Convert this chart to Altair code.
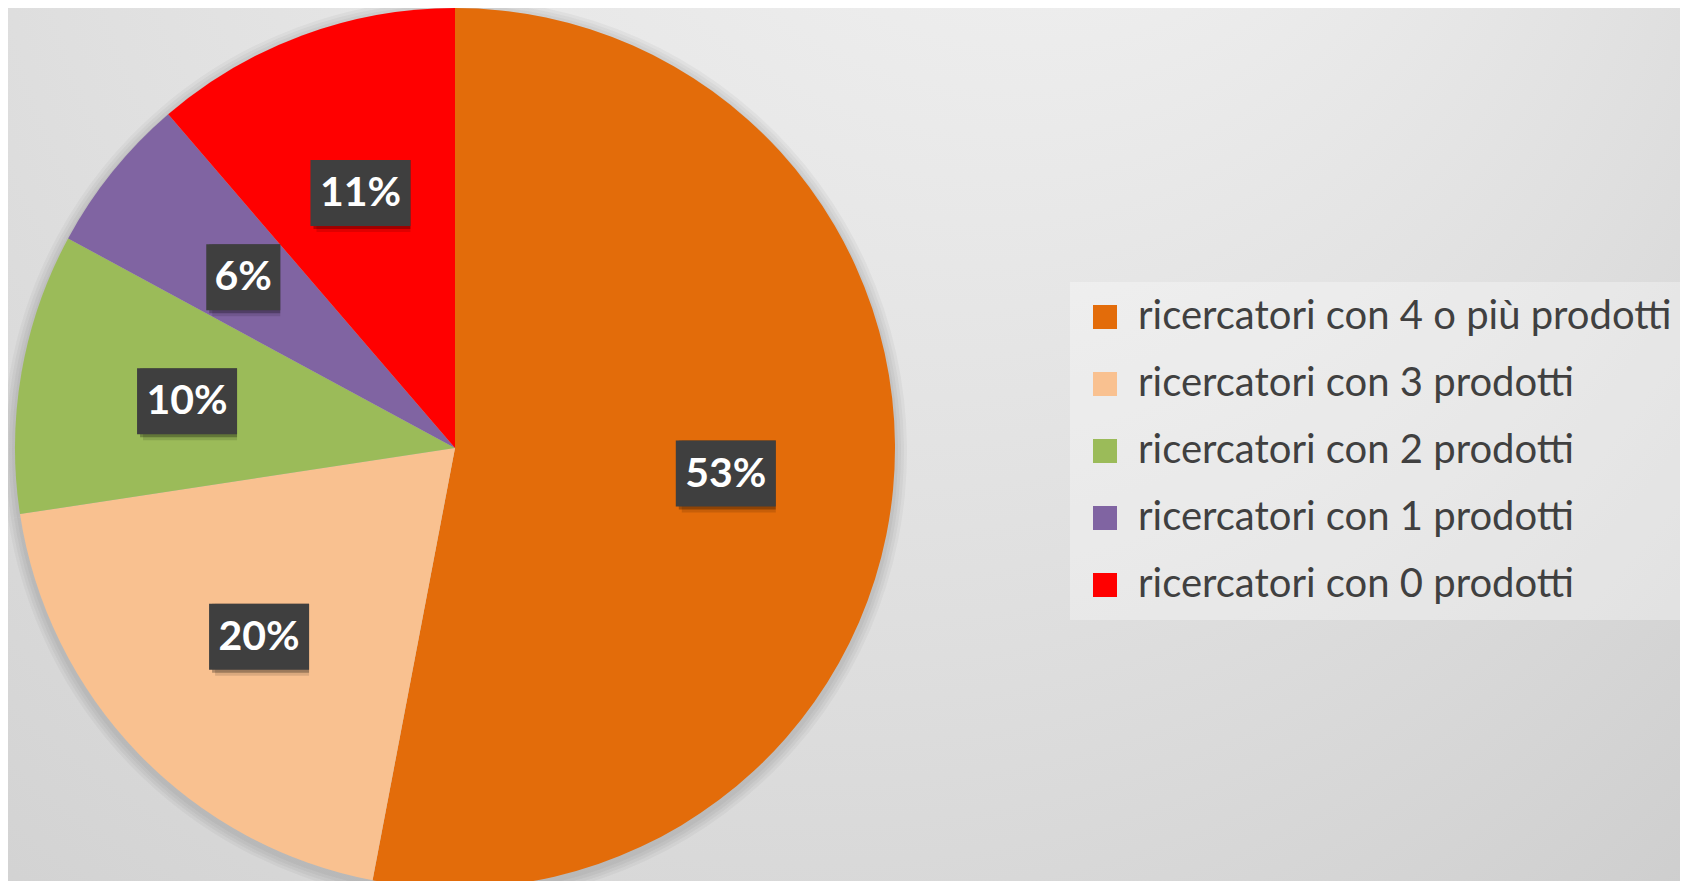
import altair as alt
import pandas as pd

# ---- data ----
categories = [
    "ricercatori con 4 o più prodotti",
    "ricercatori con 3 prodotti",
    "ricercatori con 2 prodotti",
    "ricercatori con 1 prodotti",
    "ricercatori con 0 prodotti",
]
shares = [53.0, 19.6, 10.3, 5.8, 11.3]
colors = ["#E36C0A", "#F9C190", "#9BBB59", "#8064A2", "#FF0000"]

df = pd.DataFrame({
    "category": categories,
    "share": shares,
    "order": list(range(len(categories))),
})

# ---- layout constants ----
W, H = 1672, 873
CX, CY = 447, 440          # pie centre (svg px)
R = 440                    # pie radius
LR = 272                   # label radius

xscale = alt.Scale(domain=[-CX, W - CX], range=[0, W], zero=False, nice=False)
yscale = alt.Scale(domain=[-(H - CY), CY], range=[H, 0], zero=False, nice=False)

theta = alt.Theta("share:Q", stack=True)
order = alt.Order("order:Q")

bg = alt.Chart(alt.Data(values=[{}])).mark_rect(
    color=alt.RadialGradient(
        gradient="radial",
        x1=0.68, y1=0.0, r1=0.0,
        x2=0.35, y2=0.2, r2=1.0,
        stops=[
            alt.GradientStop(offset=0, color="#f6f6f6"),
            alt.GradientStop(offset=0.5, color="#dfdfdf"),
            alt.GradientStop(offset=1, color="#c6c6c6"),
        ],
    )
).encode(x=alt.value(-8), x2=alt.value(W + 16), y=alt.value(-8), y2=alt.value(H + 16))

shadows = [
    alt.Chart(df).mark_arc(outerRadius=R + d, color="black", opacity=0.035, yOffset=3, strokeWidth=0)
    .encode(theta=theta, order=order, x=alt.value(CX), y=alt.value(CY))
    for d in (3, 6, 9, 12)
]

pie = alt.Chart(df).mark_arc(outerRadius=R, strokeWidth=0).encode(
    theta=theta,
    order=order,
    x=alt.value(CX),
    y=alt.value(CY),
    color=alt.Color(
        "category:N",
        scale=alt.Scale(domain=categories, range=colors),
        legend=alt.Legend(
            title=None,
            orient="none",
            legendX=1062,
            legendY=274,
            fillColor="rgba(255,255,255,0.32)",
            padding=15,
            symbolType="square",
            symbolSize=576,
            symbolStrokeWidth=0,
            symbolOpacity=1,
            labelFont="Lato",
            labelFontSize=40,
            labelColor="#404040",
            labelOffset=13,
            labelLimit=900,
            rowPadding=27,
        ),
    ),
)

lab = alt.Chart(df).transform_joinaggregate(
    total="sum(share)"
).transform_window(
    cum="sum(share)", sort=[alt.SortField("order")], frame=[None, 0]
).transform_calculate(
    mid="(datum.cum - datum.share / 2) / datum.total * 2 * PI",
    lx=f"{LR} * sin(datum.mid)",
    ly=f"{LR} * cos(datum.mid)",
    label="format(datum.share, '.0f') + '%'",
).transform_calculate(
    hw="length(datum.label) > 2 ? 50 : 37",
).transform_calculate(
    x0="datum.lx - datum.hw",
    x1="datum.lx + datum.hw",
    y0="datum.ly - 33",
    y1="datum.ly + 33",
)

box_enc = dict(
    x=alt.X("x0:Q", scale=xscale, axis=None),
    x2="x1:Q",
    y=alt.Y("y0:Q", scale=yscale, axis=None),
    y2="y1:Q",
)

box_shadow2 = lab.mark_rect(color="black", opacity=0.12, xOffset=6, yOffset=6).encode(**box_enc)
box_shadow = lab.mark_rect(color="black", opacity=0.28, xOffset=3, yOffset=3).encode(**box_enc)
box = lab.mark_rect(color="#3f3f3f").encode(**box_enc)

text = lab.mark_text(
    font="Lato", fontSize=41, fontWeight="bold", color="white",
    align="center", baseline="middle", dy=1,
).encode(
    x=alt.X("lx:Q", scale=xscale, axis=None),
    y=alt.Y("ly:Q", scale=yscale, axis=None),
    text="label:N",
)

chart = alt.layer(bg, *shadows, pie, box_shadow2, box_shadow, box, text).properties(
    width=W, height=H,
    autosize=alt.AutoSizeParams(type="none"),
    padding=0,
    background="#dddddd",
).configure_view(stroke=None)

chart.save("out.html", embed_options={"renderer": "svg", "actions": False})
